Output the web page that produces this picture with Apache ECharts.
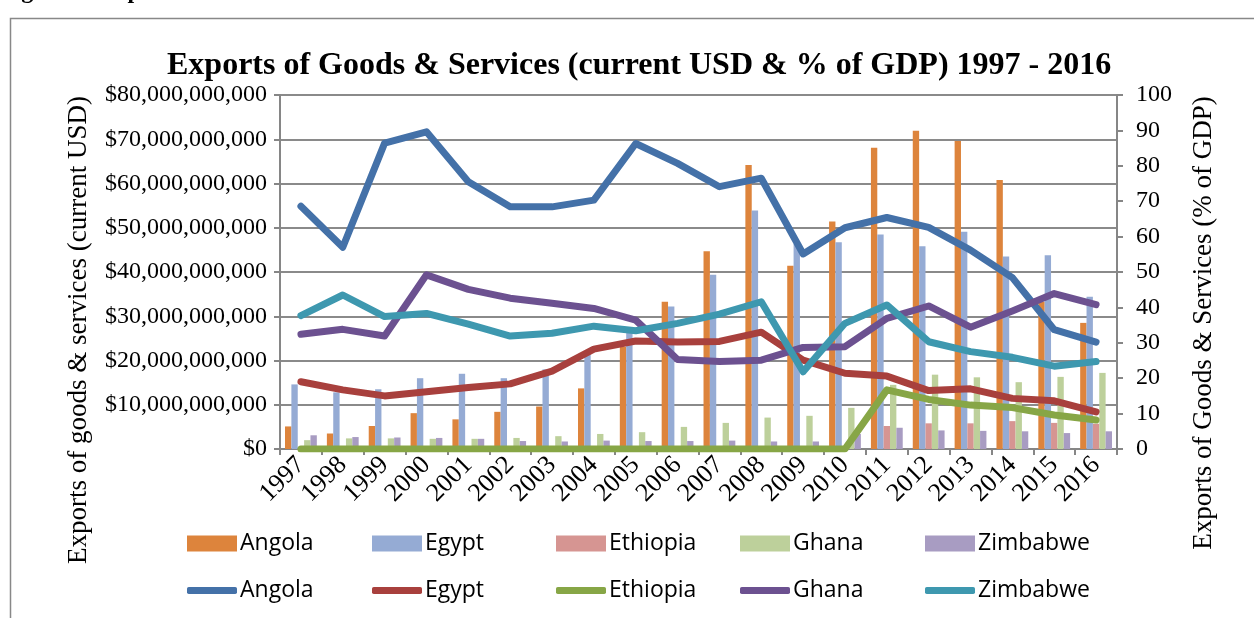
<!DOCTYPE html>
<html><head><meta charset="utf-8">
<script src="https://cdn.jsdelivr.net/npm/echarts@6/dist/echarts.min.js"></script>
<style>html,body{margin:0;padding:0;background:#fff}#c{width:1254px;height:618px}</style>
</head><body><div id="c"></div>
<script>
const years = ['1997','1998','1999','2000','2001','2002','2003','2004','2005','2006','2007','2008','2009','2010','2011','2012','2013','2014','2015','2016'];
const countries = ['Angola','Egypt','Ethiopia','Ghana','Zimbabwe'];
// Exports, billions of current USD
const angolaUsd   = [5.1,3.5,5.2,8.1,6.7,8.4,9.6,13.7,23.1,33.3,44.7,64.2,41.4,51.4,68.1,71.9,69.6,60.8,33.3,28.5];
const egyptUsd    = [14.6,12.8,13.5,16.0,17.0,16.0,18.0,21.6,26.6,32.2,39.4,53.9,46.3,46.7,48.5,45.8,49.1,43.5,43.8,34.4];
const ethiopiaUsd = [null,null,null,null,null,null,null,null,null,null,null,null,null,null,5.2,5.8,5.8,6.3,5.9,5.7];
const ghanaUsd    = [2.0,2.4,2.4,2.3,2.3,2.5,2.9,3.4,3.8,5.0,5.9,7.1,7.5,9.3,14.5,16.8,16.2,15.1,16.3,17.2];
const zimbabweUsd = [3.1,2.7,2.6,2.5,2.3,1.8,1.7,1.9,1.8,1.8,1.9,1.7,1.7,3.4,4.8,4.2,4.1,4.0,3.6,4.0];
// Exports, % of GDP
const angolaPct   = [68.6,57.0,86.4,89.6,75.5,68.4,68.4,70.3,86.3,80.7,74.1,76.5,55.1,62.5,65.4,62.6,56.2,48.4,33.7,30.2];
const egyptPct    = [19.0,16.7,15.0,16.2,17.4,18.4,22.0,28.2,30.5,30.2,30.4,33.0,25.1,21.4,20.6,16.5,17.0,14.3,13.6,10.5];
const ethiopiaPct = [0,0,0,0,0,0,0,0,0,0,0,0,0,0,16.7,14.0,12.4,11.7,9.6,8.2];
const ghanaPct    = [32.4,33.8,31.9,49.2,45.1,42.6,41.2,39.7,36.4,25.3,24.7,25.1,28.7,28.9,36.9,40.4,34.4,39.0,43.9,40.8];
const zimbabwePct = [37.7,43.5,37.4,38.3,35.3,31.9,32.7,34.7,33.4,35.5,38.1,41.6,21.8,35.5,40.7,30.3,27.5,25.9,23.4,24.7];

const barColors = ['#DD843C','#95ABD4','#D69592','#BDD09B','#A89CC2'];
const lineColors = ['#4471A8','#A8403D','#87A646','#6C5190','#3E98AF'];
const usd = [angolaUsd, egyptUsd, ethiopiaUsd, ghanaUsd, zimbabweUsd];
const pct = [angolaPct, egyptPct, ethiopiaPct, ghanaPct, zimbabwePct];

const serif = '"Liberation Serif","Times New Roman",serif';
const sans = '"Open Sans","Liberation Sans",sans-serif';

const series = [];
countries.forEach((c,i)=>{
  series.push({name:c, type:'bar', yAxisIndex:0, data:usd[i].map(v=>v==null?null:v*1e9),
    itemStyle:{color:barColors[i]}, barGap:'0%', barCategoryGap:'24%', z:2, animation:false});
});
countries.forEach((c,i)=>{
  series.push({name:c+' ', type:'line', yAxisIndex:1, data:pct[i], symbol:'none',
    lineStyle:{color:lineColors[i], width:7, cap:'round', join:'round'}, itemStyle:{color:lineColors[i]}, z:5, animation:false});
});

const legendLefts = [187,372,556,740,925];
const legends = [];
countries.forEach((c,i)=>{
  legends.push({data:[c], left:legendLefts[i], top:532, padding:0, itemWidth:50, itemHeight:16, itemGap:0,
    icon:'rect', textStyle:{fontFamily:sans, fontSize:23, color:'#000', padding:[0,0,0,-2]}, selectedMode:false});
  legends.push({data:[c+' '], left:legendLefts[i], top:579, padding:0, itemWidth:50, itemHeight:7, itemGap:0,
    icon:'roundRect', textStyle:{fontFamily:sans, fontSize:23, color:'#000', padding:[0,0,0,-2]}, selectedMode:false});
});

const chart = echarts.init(document.getElementById('c'), null, {renderer:'canvas'});
chart.setOption({
  backgroundColor:'#fff',
  animation:false,
  title:{text:'Exports of Goods & Services (current USD & % of GDP) 1997 - 2016', left:162, top:45,
    textStyle:{fontFamily:serif, fontWeight:'bold', fontSize:32, color:'#000'}},
  legend: legends,
  grid:{left:280, right:137, top:95, bottom:169, containLabel:false},
  xAxis:{type:'category', data:years, boundaryGap:true,
    axisLine:{lineStyle:{color:'#868686', width:2}},
    axisTick:{show:true, length:6, lineStyle:{color:'#868686', width:2}},
    axisLabel:{rotate:45, interval:0, margin:12, fontFamily:serif, fontSize:26, color:'#000'}},
  yAxis:[
    {type:'value', min:0, max:80e9, interval:10e9, position:'left',
     axisLine:{show:true, lineStyle:{color:'#868686', width:2}},
     axisTick:{show:true, length:6, lineStyle:{color:'#868686', width:2}},
     splitLine:{show:true, lineStyle:{color:'#8A8A8A', width:2}},
     axisLabel:{margin:13, fontFamily:serif, fontSize:24, color:'#000',
       formatter:v=>'$'+Math.round(v).toLocaleString('en-US')}},
    {type:'value', min:0, max:100, interval:10, position:'right',
     axisLine:{show:true, lineStyle:{color:'#868686', width:2}},
     axisTick:{show:true, length:6, lineStyle:{color:'#868686', width:2}},
     splitLine:{show:false},
     axisLabel:{margin:19, fontFamily:serif, fontSize:24, color:'#000'}}
  ],
  graphic:[
    {type:'rect', shape:{x:10.5, y:18.5, width:1300, height:700}, style:{fill:null, stroke:'#888', lineWidth:1.5}, silent:true},
    {type:'text', left:0, top:-20, style:{text:'Figure 2: Exports of Goods and Services', font:'bold 24px '+serif, fill:'#000'}},
    {type:'text', x:79, y:330, rotation:Math.PI/2, style:{text:'Exports of goods & services (current USD)', font:'27px '+serif, fill:'#000', align:'center', verticalAlign:'middle'}},
    {type:'text', x:1204, y:323, rotation:Math.PI/2, style:{text:'Exports of Goods & Services (% of GDP)', font:'27px '+serif, fill:'#000', align:'center', verticalAlign:'middle'}}
  ],
  series: series
});
</script></body></html>
